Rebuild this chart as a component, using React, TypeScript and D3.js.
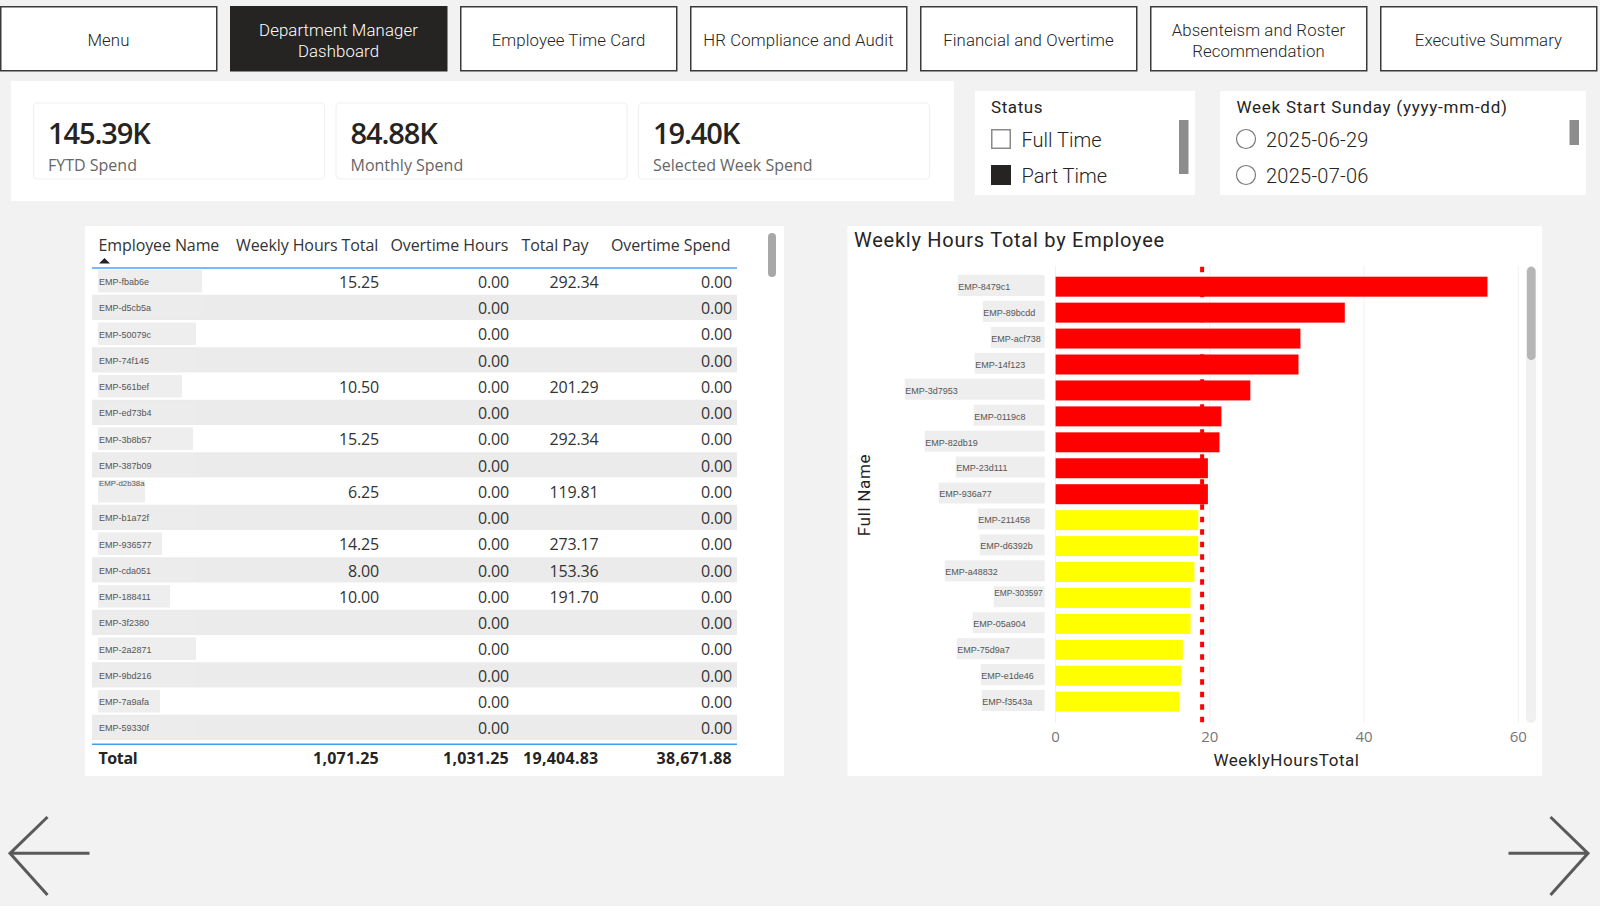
import * as d3 from 'd3';

// Nav buttons
const navLabels = [
  ['Menu'],
  ['Department Manager', 'Dashboard'],
  ['Employee Time Card'],
  ['HR Compliance and Audit'],
  ['Financial and Overtime'],
  ['Absenteism and Roster', 'Recommendation'],
  ['Executive Summary'],
];
const activeNav = 1;

// KPI cards
const kpiValues = ['145.39K', '84.88K', '19.40K'];
const kpiLabels = ['FYTD Spend', 'Monthly Spend', 'Selected Week Spend'];

// Slicers
const statusOptions = ['Full Time', 'Part Time'];
const weekOptions = ['2025-06-29', '2025-07-06'];

// Table
const tableHeaders = ['Employee Name', 'Weekly Hours Total', 'Overtime Hours', 'Total Pay', 'Overtime Spend'];
const tableNames = [
  'EMP-fbab6e', 'EMP-d5cb5a', 'EMP-50079c', 'EMP-74f145', 'EMP-561bef', 'EMP-ed73b4',
  'EMP-3b8b57', 'EMP-387b09', 'EMP-d2b38a', 'EMP-b1a72f', 'EMP-936577', 'EMP-cda051',
  'EMP-188411', 'EMP-3f2380', 'EMP-2a2871', 'EMP-9bd216', 'EMP-7a9afa', 'EMP-59330f',
];
const tableHours = ['15.25', '', '', '', '10.50', '', '15.25', '', '6.25', '', '14.25', '8.00', '10.00', '', '', '', '', ''];
const tableOvertime = Array.from(tableNames, () => '0.00');
const tablePay = ['292.34', '', '', '', '201.29', '', '292.34', '', '119.81', '', '273.17', '153.36', '191.70', '', '', '', '', ''];
const tableOvertimeSpend = Array.from(tableNames, () => '0.00');
const tableTotals = ['Total', '1,071.25', '1,031.25', '19,404.83', '38,671.88'];

// Bar chart
const employees = [
  'EMP-8479c1', 'EMP-89bcdd', 'EMP-acf738', 'EMP-14f123', 'EMP-3d7953', 'EMP-0119c8',
  'EMP-82db19', 'EMP-23d111', 'EMP-936a77', 'EMP-211458', 'EMP-d6392b', 'EMP-a48832',
  'EMP-303597', 'EMP-05a904', 'EMP-75d9a7', 'EMP-e1de46', 'EMP-f3543a',
];
const weeklyHours = [56, 37.5, 31.75, 31.5, 25.25, 21.5, 21.25, 19.75, 19.75, 18.5, 18.5, 18, 17.5, 17.5, 16.5, 16.25, 16];
const hoursThreshold = 19;

// Grey patches behind the employee names, in px
const tableChipWidths = [104, 104, 98, 98, 84, 98, 95, 98, 47, 98, 64, 98, 72, 98, 98, 98, 62, 98];
const chartChipWidths = [87, 62, 54, 70, 140, 71, 120, 89, 106, 67, 65, 100, 51, 72, 88, 64, 63];

const SEGOE = '"Open Sans", "Noto Sans", sans-serif';
const DIN = 'Roboto, "Noto Sans", sans-serif';
const ARIAL = '"Liberation Sans", Arial, sans-serif';
const BG = '#f2f2f2';

const navX = d3.scaleLinear().domain([0, 1]).range([0, 230]);
const rowY = d3.scaleLinear().domain([0, 1]).range([268.5, 294.75]);
const hoursX = d3.scaleLinear().domain([0, 60]).range([1055.6, 1518.3]);
const barY = d3.scaleBand<string>().domain(employees).range([276.7, 711.7]).paddingInner(0.23);

// right edge of the table's numeric columns
const colRight = [0, 379, 509, 598.5, 732];
const tableColumns = [tableHours, tableOvertime, tablePay, tableOvertimeSpend];
const headerX = [98.5, 236, 390.5, 521.5, 611];

function Arrow({ dir }: { dir: 'left' | 'right' }) {
  const path = d3.path();
  const tip = dir === 'left' ? 10 : 1588;
  const s = dir === 'left' ? 1 : -1;
  path.moveTo(tip + s * 37.5, 817);
  path.lineTo(tip, 853.3);
  path.lineTo(tip + s * 37.5, 895);
  path.moveTo(tip, 853.3);
  path.lineTo(tip + s * 79.5, 853.3);
  return <path d={path.toString()} fill="none" stroke="#5a5a5a" strokeWidth={3} />;
}

export default function App() {
  return (
    <>
      <style>{`html,body{margin:0;padding:0;background:${BG}}`}</style>
      <svg width={1600} height={913} style={{ display: 'block' }}>
        <rect width={1600} height={913} fill={BG} />
        <rect y={906} width={1600} height={7} fill="#ffffff" />

        {/* Nav buttons */}
        {navLabels.map((lines, i) => {
          const active = i === activeNav;
          const cx = navX(i) + 108.5;
          return (
            <g key={i}>
              <rect x={navX(i) + 0.75} y={6.75} width={216} height={64} fill={active ? '#252423' : '#ffffff'} stroke={active ? '#252423' : '#3a3a3a'} strokeWidth={1.5} />
              {lines.map((l, j) => (
                <text
                  key={l}
                  x={cx}
                  y={lines.length === 1 ? 46 : 35.5 + j * 21}
                  textAnchor="middle"
                  fontFamily={DIN}
                  fontSize={16.8}
                  fontWeight={300}
                  letterSpacing={0.1}
                  fill={active ? '#ffffff' : '#252423'}
                >
                  {l}
                </text>
              ))}
            </g>
          );
        })}

        {/* KPI panel */}
        <rect x={11} y={81} width={943} height={120} fill="#ffffff" />
        {kpiValues.map((v, i) => {
          const x = 33.5 + i * 302.5;
          return (
            <g key={v}>
              <rect x={x} y={103} width={291} height={76} rx={4} fill="#ffffff" stroke="#f0f0f0" strokeWidth={1.2} />
              <text x={x + 14.5} y={144} fontFamily={SEGOE} fontSize={29} fontWeight={600} fill="#252423" letterSpacing={-1.1}>{v}</text>
              <text x={x + 14.5} y={171} fontFamily={SEGOE} fontSize={16} fill="#666666" letterSpacing={0}>{kpiLabels[i]}</text>
            </g>
          );
        })}

        {/* Slicers */}
        <rect x={975} y={91} width={220} height={104} fill="#ffffff" />
        <text x={991} y={113} fontFamily={DIN} fontSize={17} fontWeight={400} fill="#252423" letterSpacing={0.6}>Status</text>
        {statusOptions.map((o, i) => (
          <g key={o}>
            <rect x={991.75} y={129.75 + i * 36} width={18.5} height={18.5} fill={i === 1 ? '#252423' : '#ffffff'} stroke={i === 1 ? '#252423' : '#8a8a8a'} strokeWidth={1.5} />
            <text x={1021.5} y={146.5 + i * 36} fontFamily={DIN} fontSize={20} fontWeight={300} fill="#252423">{o}</text>
          </g>
        ))}
        <rect x={1179} y={120} width={9.5} height={54} fill="#8c8c8c" />

        <rect x={1220} y={91} width={366} height={104} fill="#ffffff" />
        <text x={1236.5} y={113} fontFamily={DIN} fontSize={17} fontWeight={400} fill="#252423" letterSpacing={0.75}>Week Start Sunday (yyyy-mm-dd)</text>
        {weekOptions.map((o, i) => (
          <g key={o}>
            <circle cx={1246} cy={139 + i * 36} r={9.5} fill="#ffffff" stroke="#7a7a7a" strokeWidth={1.2} />
            <text x={1266} y={146.5 + i * 36} fontFamily={DIN} fontSize={20} fontWeight={300} letterSpacing={0.25} fill="#252423">{o}</text>
          </g>
        ))}
        <rect x={1569.5} y={120} width={9.5} height={25} fill="#8c8c8c" />

        {/* Table */}
        <rect x={85} y={226} width={699} height={550} fill="#ffffff" />
        {tableHeaders.map((h, i) => (
          <text key={h} x={headerX[i]} y={251} fontFamily={SEGOE} fontSize={16} fill="#333333" letterSpacing={-0.1}>{h}</text>
        ))}
        <path d="M99,263.5 L104.5,258 L110,263.5 Z" fill="#222222" />
        {tableNames.map((name, i) => {
          const y = rowY(i);
          const cy = y + 13.4;
          const squeezed = name === 'EMP-d2b38a';
          return (
            <g key={name}>
              <rect x={92} y={y} width={645} height={25.2} fill={i % 2 ? '#ebebeb' : '#ffffff'} />
              <rect x={98} y={y + 1.5} width={tableChipWidths[i]} height={22.5} fill={i % 2 ? '#ececec' : '#eeeeee'} />
              <text x={99} y={squeezed ? cy - 5.5 : cy + 3.2} fontFamily={ARIAL} fontSize={squeezed ? 7.8 : 9} fill="#555555">{name}</text>
              {tableColumns.map((col, c) => (
                <text key={c} x={colRight[c + 1]} y={cy + 6} textAnchor="end" fontFamily={SEGOE} fontSize={16} fill="#333333" letterSpacing={-0.15}>{col[i]}</text>
              ))}
            </g>
          );
        })}
        <line x1={92} x2={737} y1={268} y2={268} stroke="#4aa5ff" strokeWidth={1.6} />
        <line x1={92} x2={737} y1={744.3} y2={744.3} stroke="#3f9ff5" strokeWidth={1.6} />
        {tableTotals.map((t, i) => (
          <text
            key={t}
            x={i === 0 ? 98.5 : colRight[i]}
            y={764}
            textAnchor={i === 0 ? 'start' : 'end'}
            fontFamily={SEGOE}
            fontSize={16}
            fontWeight={700}
            fill="#252423"
            letterSpacing={i === 0 ? -0.4 : 0.25}
          >
            {t}
          </text>
        ))}
        <rect x={768} y={233} width={8} height={44} rx={4} fill="#a8a8a8" />

        {/* Bar chart */}
        <rect x={847.5} y={226} width={694.5} height={550} fill="#ffffff" />
        <text x={854} y={246.5} fontFamily={DIN} fontSize={20} fontWeight={400} fill="#252423" letterSpacing={0.75}>Weekly Hours Total by Employee</text>
        {hoursX.ticks(3).map((t) => (
          <g key={t}>
            <line x1={hoursX(t)} x2={hoursX(t)} y1={266} y2={723} stroke="#f0f0f0" strokeWidth={1} />
            <text x={hoursX(t)} y={742} textAnchor="middle" fontFamily={SEGOE} fontSize={15} fill="#777777">{t}</text>
          </g>
        ))}
        {employees.map((name, i) => {
          const y = barY(name) as number;
          const bw = barY.bandwidth();
          const squeezed = name === 'EMP-303597';
          return (
            <g key={name}>
              <rect x={1044.7 - chartChipWidths[i]} y={y - 1.7} width={chartChipWidths[i]} height={21} fill="#eeeeee" />
              <text x={1044.7 - chartChipWidths[i] + 0.5} y={squeezed ? y + bw / 2 - 1.5 : y + bw / 2 + 3.2} fontFamily={ARIAL} fontSize={squeezed ? 8.3 : 9} fill="#555555">{name}</text>
            </g>
          );
        })}
        <line
          x1={hoursX(hoursThreshold)}
          x2={hoursX(hoursThreshold)}
          y1={266.7}
          y2={723}
          stroke="#ff0000"
          strokeWidth={4}
          strokeDasharray="5.5 7"
        />
        {employees.map((name, i) => (
          <rect
            key={name}
            x={hoursX(0)}
            y={barY(name)}
            width={hoursX(weeklyHours[i]) - hoursX(0)}
            height={barY.bandwidth()}
            fill={weeklyHours[i] > hoursThreshold ? '#ff0000' : '#ffff00'}
          />
        ))}
        <text transform="translate(870,495) rotate(-90)" textAnchor="middle" fontFamily={DIN} fontSize={17} fontWeight={400} fill="#252423" letterSpacing={0.7}>Full Name</text>
        <text x={1286.5} y={766} textAnchor="middle" fontFamily={DIN} fontSize={17} fontWeight={400} fill="#252423" letterSpacing={0.55}>WeeklyHoursTotal</text>
        <rect x={1526} y={266} width={10} height={457} rx={5} fill="#f0f0f0" />
        <rect x={1527} y={266.7} width={8.6} height={93.3} rx={4.3} fill="#b5b5b5" />

        <Arrow dir="left" />
        <Arrow dir="right" />
      </svg>
    </>
  );
}
